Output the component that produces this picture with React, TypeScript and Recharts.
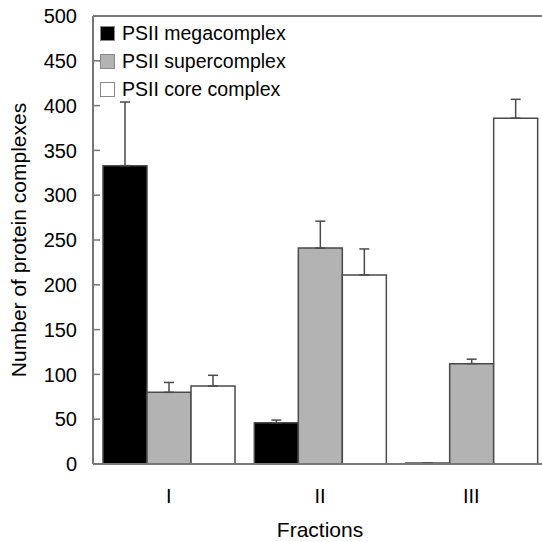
import React from 'react';
import { BarChart, Bar, XAxis, YAxis, ErrorBar, Legend, ReferenceLine } from 'recharts';

const fractions = ['I', 'II', 'III'];
const megaValues = [333, 46, 1];
const megaErrors = [71, 3, 0];
const superValues = [80, 241, 112];
const superErrors = [11, 30, 5];
const coreValues = [87, 211, 386];
const coreErrors = [12, 29, 21];
const yTicks = [0, 50, 100, 150, 200, 250, 300, 350, 400, 450, 500];

const seriesInfo = [
  { key: 'mega', name: 'PSII megacomplex', fill: '#000000' },
  { key: 'super', name: 'PSII supercomplex', fill: '#b3b3b3' },
  { key: 'core', name: 'PSII core complex', fill: '#ffffff' },
];

const data = fractions.map((f, i) => ({
  fraction: f,
  mega: megaValues[i],
  megaErr: [0, megaErrors[i]],
  super: superValues[i],
  superErr: [0, superErrors[i]],
  core: coreValues[i],
  coreErr: [0, coreErrors[i]],
}));

const FONT = '"Liberation Sans", Arial, sans-serif';
const AXIS = '#777';
const EDGE = '#4a4a4a';

const LegendBox = () => (
  <div style={{ fontFamily: FONT, fontSize: 19.5, color: '#000' }}>
    {seriesInfo.map((s) => (
      <div key={s.key} style={{ display: 'flex', alignItems: 'center', height: 28 }}>
        <span
          style={{
            display: 'inline-block',
            width: 13,
            height: 13,
            background: s.fill,
            border: '1px solid #888',
            marginRight: 7,
          }}
        />
        <span>{s.name}</span>
      </div>
    ))}
  </div>
);

export default function App() {
  return (
    <div
      style={{
        position: 'absolute',
        left: 0,
        top: 0,
        width: 542,
        height: 542,
        overflow: 'hidden',
        background: '#fff',
      }}
    >
      <BarChart
        width={550}
        height={542}
        data={data}
        margin={{ top: 16, right: 3, left: 0, bottom: 0 }}
        barCategoryGap={10}
        barGap={0}
        style={{ fontFamily: FONT }}
      >
        <XAxis
          dataKey="fraction"
          height={78}
          tickLine={false}
          tickMargin={19}
          axisLine={{ stroke: AXIS, strokeWidth: 2 }}
          tick={{ fill: '#000', fontSize: 20 }}
          label={{ value: 'Fractions', position: 'insideBottom', offset: 5, fill: '#000', fontSize: 21 }}
        />
        <YAxis
          width={93}
          domain={[0, 500]}
          ticks={yTicks}
          interval={0}
          tickSize={-7}
          tickMargin={23}
          axisLine={{ stroke: AXIS, strokeWidth: 2 }}
          tickLine={{ stroke: AXIS, strokeWidth: 1.5 }}
          tick={{ fill: '#000', fontSize: 20 }}
          label={{
            value: 'Number of protein complexes',
            angle: -90,
            position: 'center',
            dx: -28,
            fill: '#000',
            fontSize: 21,
          }}
        />
        <ReferenceLine y={500} stroke={AXIS} strokeWidth={2} />
        <Legend
          layout="horizontal"
          verticalAlign="middle"
          align="center"
          content={() => <LegendBox />}
          wrapperStyle={{ left: 100, top: 19, width: 'auto', height: 'auto' }}
        />
        {seriesInfo.map((s) => (
          <Bar
            key={s.key}
            dataKey={s.key}
            name={s.name}
            fill={s.fill}
            stroke={EDGE}
            strokeWidth={1.5}
            isAnimationActive={false}
          >
            <ErrorBar dataKey={`${s.key}Err`} width={5} stroke={EDGE} strokeWidth={1.5} />
          </Bar>
        ))}
      </BarChart>
    </div>
  );
}
